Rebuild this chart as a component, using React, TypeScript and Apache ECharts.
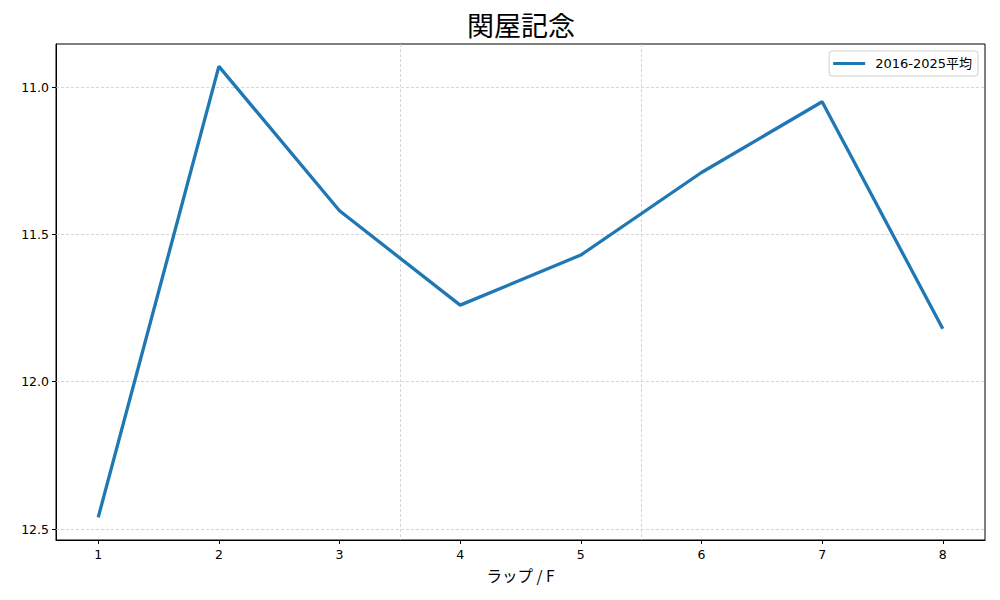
import React, { useEffect, useRef } from "react";
import * as echarts from "echarts";

const laps = [1, 2, 3, 4, 5, 6, 7, 8];
const avgValues = [12.46, 10.93, 11.42, 11.74, 11.57, 11.29, 11.05, 11.82];
const yTicks = [11.0, 11.5, 12.0, 12.5];
const sectionDividers = [3.5, 5.5];
const seriesName = "2016-2025平均";
const titleText = "関屋記念";
const xName = "ラップ / F";

const FONT = "'DejaVu Sans', 'Noto Sans CJK JP', sans-serif";
const CJK = "'Noto Sans CJK JP', 'DejaVu Sans', sans-serif";

export default function App() {
  const ref = useRef<HTMLDivElement>(null);
  useEffect(() => {
    if (!ref.current) return;
    const chart = echarts.init(ref.current, undefined, { renderer: "svg" });
    const gridLineStyle = { color: "#c4c4c4", width: 0.7, type: [3, 2] as any };
    chart.setOption({
      animation: false,
      backgroundColor: "#fff",
      textStyle: { fontFamily: FONT },
      title: {
        text: titleText,
        left: 516,
        textAlign: "center",
        top: 6,
        textStyle: { fontFamily: CJK, fontSize: 27, fontWeight: "normal", color: "#000" },
      },
      legend: {
        right: 22,
        top: 51,
        icon: "rect",
        itemWidth: 32,
        itemHeight: 3,
        itemGap: 8,
        padding: [6, 6, 6, 4],
        borderColor: "#d0d0d0",
        borderWidth: 1,
        borderRadius: 3,
        backgroundColor: "#fff",
        textStyle: { fontFamily: FONT, fontSize: 13, color: "#000", padding: [0, 0, 0, 5] },
        data: [seriesName],
      },
      grid: {
        left: 56,
        right: 15,
        top: 44,
        bottom: 60,
        show: true,
        borderColor: "#000",
        borderWidth: 1,
        backgroundColor: "transparent",
      },
      xAxis: {
        type: "value",
        min: 0.65,
        max: 8.35,
        name: xName,
        nameLocation: "middle",
        nameGap: 27,
        nameTextStyle: { fontFamily: CJK, fontSize: 15.5, color: "#000" },
        axisLine: { show: true, lineStyle: { color: "#000", width: 1 } },
        axisTick: { show: true, inside: false, length: 4, lineStyle: { color: "#000" }, customValues: laps },
        axisLabel: { show: true, color: "#000", fontSize: 12.5, margin: 8, fontFamily: FONT, customValues: laps },
        splitLine: { show: false },
      },
      yAxis: {
        type: "value",
        inverse: true,
        min: 10.854,
        max: 12.537,
        axisLine: { show: true, lineStyle: { color: "#000", width: 1 } },
        axisTick: { show: true, inside: false, length: 4, lineStyle: { color: "#000" }, customValues: yTicks },
        axisLabel: {
          show: true,
          color: "#000",
          fontSize: 12.5,
          margin: 7,
          fontFamily: FONT,
          customValues: yTicks,
          formatter: (v: number) => v.toFixed(1),
        },
        splitLine: { show: false },
      },
      series: [
        {
          name: seriesName,
          type: "line",
          data: laps.map((x, i) => [x, avgValues[i]]),
          showSymbol: false,
          symbol: "none",
          lineStyle: { color: "#1f77b4", width: 3.3 },
          itemStyle: { color: "#1f77b4" },
          z: 3,
          markLine: {
            silent: true,
            symbol: "none",
            label: { show: false },
            lineStyle: gridLineStyle,
            z: 1,
            data: [
              ...sectionDividers.map((x) => ({ xAxis: x })),
              ...yTicks.map((y) => ({ yAxis: y })),
            ],
          },
        },
      ],
    });
    return () => chart.dispose();
  }, []);
  return <div ref={ref} style={{ width: 1000, height: 600, position: "absolute", left: 0, top: 0 }} />;
}
